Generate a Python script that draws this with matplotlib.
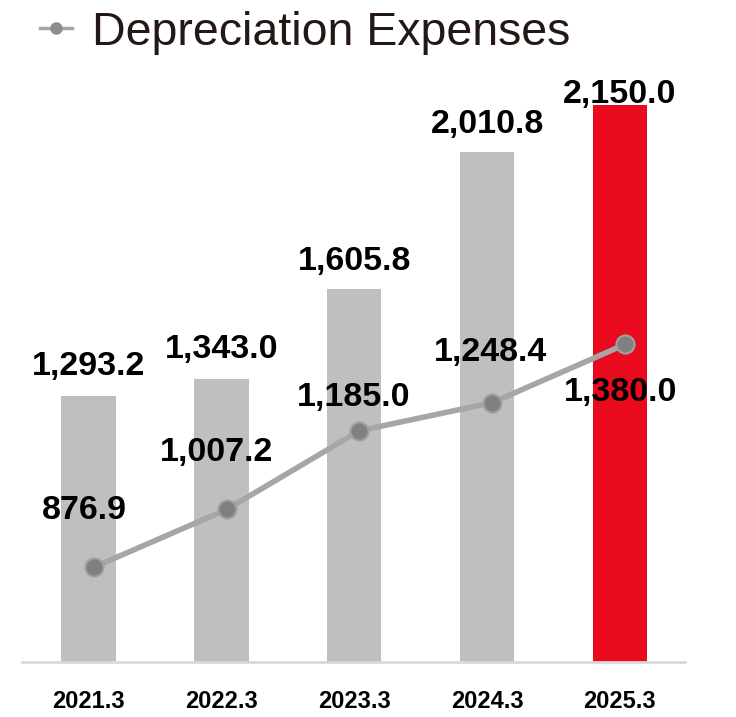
import matplotlib.pyplot as plt
from matplotlib.lines import Line2D

# dados
anos = ['2021.3', '2022.3', '2023.3', '2024.3', '2025.3']
capex = [1293.2, 1343.0, 1605.8, 2010.8, 2150.0]
depreciacao = [876.9, 1007.2, 1185.0, 1248.4, 1380.0]

cinza = '#BFBFBF'
vermelho = '#EA0A1E'
plt.rcParams['font.family'] = ['Liberation Sans', 'DejaVu Sans']

fig = plt.figure(figsize=(7.36, 7.17), dpi=100)
ax = fig.add_axes([22 / 736, 55 / 717, 663 / 736, 572 / 717])
x = list(range(len(anos)))
cores = [cinza] * (len(anos) - 1) + [vermelho]
ax.bar(x, capex, width=0.41, color=cores, zorder=2)
ax.set_ylim(509, 2193)
ax.set_xlim(-0.5, 4.49)

ax2 = ax.twinx()
ax2.plot([i + 0.04 for i in x], depreciacao, color='#A6A6A6', lw=4, marker='o', ms=13,
         mfc='#808080', mec='#A0A0A0', mew=1.5, zorder=3)
ax2.set_ylim(663, 1954)

for a in (ax, ax2):
    for s in a.spines.values():
        s.set_visible(False)
    a.set_yticks([])
ax.spines['bottom'].set_visible(True)
ax.spines['bottom'].set_color('#D9D9D9')
ax.spines['bottom'].set_linewidth(2)
ax.set_xticks(x)
ax.set_xticklabels(anos, fontsize=17, fontweight='bold')
ax.tick_params(axis='x', length=0, pad=20)

# rótulos das barras
offs_barra = [21, 21, 20, 20, 7]
for i, v in enumerate(capex):
    ax.annotate(f'{v:,.1f}', (i, v), xytext=(0, offs_barra[i]), textcoords='offset points',
                ha='center', va='center', fontsize=24.5, fontweight='bold')

# rótulos da linha
offs_linha = [(-7, 41), (-7, 41), (-4, 24), (-1, 36), (-3, -35)]
for i, v in enumerate(depreciacao):
    ax2.annotate(f'{v:,.1f}', (i + 0.04, v), xytext=offs_linha[i], textcoords='offset points',
                 ha='center', va='center', fontsize=24.5, fontweight='bold', zorder=4)

# legenda
fig.add_artist(Line2D([40 / 736, 72 / 736], [1 - 28 / 717] * 2, color='#A6A6A6', lw=2.5))
fig.add_artist(Line2D([56 / 736], [1 - 28 / 717], marker='o', ms=8, color='#8C8C8C'))
fig.text(92 / 736, 1 - 33 / 717, 'Depreciation Expenses', fontsize=33.5, color='#231815',
         ha='left', va='center')

fig.savefig('out.png', dpi=100)
